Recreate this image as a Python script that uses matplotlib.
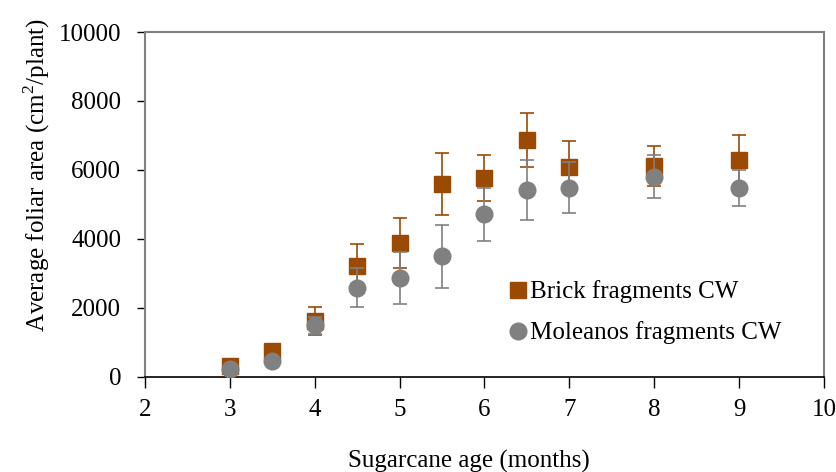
import matplotlib
matplotlib.use("Agg")
import matplotlib.pyplot as plt
from matplotlib.lines import Line2D

months_brick = [3, 3.5, 4, 4.5, 5, 5.5, 6, 6.5, 7, 8, 9]
brick_area = [310, 750, 1620, 3220, 3880, 5600, 5770, 6870, 6100, 6120, 6280]
brick_err = [0, 0, 400, 640, 735, 900, 660, 790, 740, 580, 740]

months_mol = [3, 3.5, 4, 4.5, 5, 5.5, 6, 6.5, 7, 8, 9]
mol_area = [230, 470, 1500, 2590, 2880, 3500, 4710, 5420, 5480, 5810, 5480]
mol_err = [0, 0, 250, 570, 750, 920, 770, 880, 740, 630, 530]

xticks = [2, 3, 4, 5, 6, 7, 8, 9, 10]
yticks = [0, 2000, 4000, 6000, 8000, 10000]
series_labels = ['Brick fragments CW', 'Moleanos fragments CW']

brick_color = "#9B4A04"
gray_color = "#808080"

plt.rcParams['font.family'] = ['Liberation Serif', 'DejaVu Serif']
plt.rcParams['mathtext.fontset'] = 'custom'
plt.rcParams['mathtext.rm'] = 'Liberation Serif'

fig = plt.figure(figsize=(8.37, 4.72), dpi=100)
ax = fig.add_axes([0.1732, 0.2013, 0.8113, 0.7309])

ax.errorbar(months_brick, brick_area, yerr=brick_err, fmt='s', color=brick_color,
            ecolor=brick_color, elinewidth=1.2, capsize=4.7, capthick=1.2,
            markersize=11.5, zorder=3)
ax.errorbar(months_mol, mol_area, yerr=mol_err, fmt='o', color=gray_color,
            ecolor=gray_color, elinewidth=1.2, capsize=4.7, capthick=1.2,
            markersize=12, zorder=4)

ax.set_xlim(2, 10)
ax.set_ylim(0, 10000)
ax.set_xticks(xticks)
ax.set_yticks(yticks)
ax.tick_params(axis='y', direction='out', length=6, width=1, labelsize=18, pad=11)
ax.tick_params(axis='x', direction='out', length=8, width=1, labelsize=18, pad=8)

for s in ['top', 'right', 'left']:
    ax.spines[s].set_color(gray_color)
    ax.spines[s].set_linewidth(1.5)
ax.spines['bottom'].set_color('black')
ax.spines['bottom'].set_linewidth(1.2)

ax.set_xlabel('Sugarcane age (months)', fontsize=18, va='top')
ax.xaxis.set_label_coords(0.477, -0.212)
ax.set_ylabel('Average foliar area (cm$^\\mathregular{2}$/plant)', fontsize=18)
ax.yaxis.set_label_coords(-0.137, 0.585)

h1 = Line2D([], [], marker='s', color=brick_color, linestyle='none', markersize=11.5)
h2 = Line2D([], [], marker='o', color=gray_color, linestyle='none', markersize=12)
ax.legend([h1, h2], series_labels, loc='center left', bbox_to_anchor=(0.539, 0.187),
          frameon=False, fontsize=18, handletextpad=0.15, handlelength=0.6,
          labelspacing=0.72, borderaxespad=0, borderpad=0)

fig.savefig('out.png', dpi=100)
